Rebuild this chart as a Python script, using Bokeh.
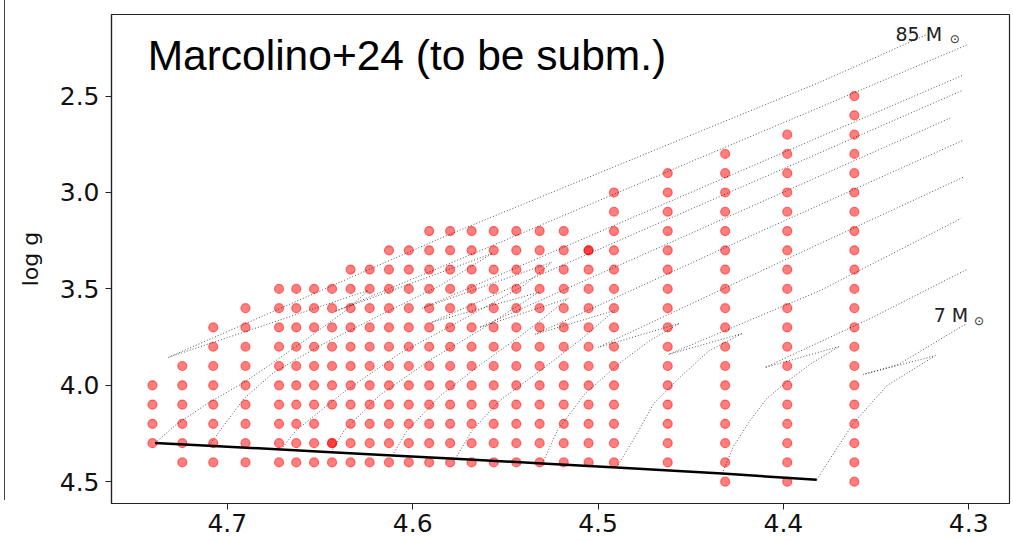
from bokeh.plotting import figure
from bokeh.models import Range1d, Label, FixedTicker, PrintfTickFormatter, Div
from bokeh.layouts import row
from bokeh.embed import file_html
from bokeh.resources import INLINE

# ---- grid of models (log Teff columns, log g range per column) ----
teff_cols = [4.7404, 4.7243, 4.7076, 4.6902, 4.6721, 4.6628, 4.6532, 4.6435, 4.6335,
             4.6232, 4.6128, 4.6021, 4.5911, 4.5798, 4.5682, 4.5563, 4.5441, 4.5315,
             4.5185, 4.5051, 4.4914, 4.4624, 4.4314, 4.3979, 4.3617]
g_top = [4.0, 3.9, 3.7, 3.6, 3.5, 3.5, 3.5, 3.5, 3.4, 3.4, 3.3, 3.3, 3.2, 3.2, 3.2,
         3.2, 3.2, 3.2, 3.2, 3.3, 3.0, 2.9, 2.8, 2.7, 2.5]
g_bottom = [4.3, 4.4, 4.4, 4.4, 4.4, 4.4, 4.4, 4.4, 4.4, 4.4, 4.4, 4.4, 4.4, 4.4, 4.4,
            4.4, 4.4, 4.4, 4.4, 4.4, 4.4, 4.4, 4.5, 4.5, 4.5]
missing_pts = [(4.6435, 4.2)]
extra_pts = [(4.6435, 4.3), (4.5051, 3.3)]

# ---- ZAMS ----
zams_x = [4.739, 4.710, 4.671, 4.644, 4.611, 4.577, 4.530, 4.490, 4.433, 4.382]
zams_g = [4.299, 4.313, 4.333, 4.347, 4.364, 4.381, 4.405, 4.426, 4.458, 4.490]

# ---- evolutionary tracks (ZAMS -> TAMS hook -> post-MS) ----
t85_x = [4.739, 4.727, 4.710, 4.692, 4.676, 4.656, 4.636, 4.624, 4.732, 4.584, 4.380, 4.323]
t85_g = [4.299, 4.199, 4.090, 3.991, 3.887, 3.752, 3.612, 3.508, 3.856, 3.233, 2.427, 2.183]
t60_x = [4.710, 4.704, 4.691, 4.675, 4.650, 4.618, 4.585, 4.557, 4.642, 4.551, 4.380, 4.301]
t60_g = [4.313, 4.235, 4.069, 3.934, 3.794, 3.638, 3.482, 3.316, 3.617, 3.251, 2.557, 2.235]
t40_x = [4.671, 4.663, 4.636, 4.607, 4.569, 4.540, 4.525, 4.595, 4.499, 4.303]
t40_g = [4.333, 4.235, 4.027, 3.835, 3.638, 3.482, 3.362, 3.601, 3.203, 2.391]
t32_x = [4.644, 4.637, 4.618, 4.591, 4.564, 4.532, 4.590, 4.445, 4.303]
t32_g = [4.347, 4.235, 4.053, 3.871, 3.716, 3.518, 3.674, 3.066, 2.469]
t25_x = [4.611, 4.603, 4.585, 4.564, 4.540, 4.516, 4.564, 4.445, 4.310]
t25_g = [4.364, 4.235, 4.053, 3.897, 3.731, 3.549, 3.700, 3.191, 2.614]
t20_x = [4.577, 4.568, 4.553, 4.531, 4.510, 4.491, 4.534, 4.418, 4.303]
t20_g = [4.381, 4.235, 4.079, 3.923, 3.768, 3.612, 3.736, 3.227, 2.729]
t15_x = [4.530, 4.522, 4.507, 4.488, 4.472, 4.456, 4.500, 4.402, 4.303]
t15_g = [4.405, 4.235, 4.043, 3.882, 3.768, 3.679, 3.804, 3.362, 2.921]
t12_x = [4.490, 4.478, 4.470, 4.456, 4.440, 4.422, 4.462, 4.380, 4.304]
t12_g = [4.426, 4.235, 4.095, 3.960, 3.820, 3.731, 3.840, 3.508, 3.134]
t9_x = [4.433, 4.427, 4.418, 4.409, 4.398, 4.385, 4.370, 4.410, 4.353, 4.301]
t9_g = [4.458, 4.318, 4.183, 4.069, 3.981, 3.887, 3.799, 3.908, 3.653, 3.399]
t7_x = [4.382, 4.372, 4.362, 4.344, 4.318, 4.357, 4.338, 4.301]
t7_g = [4.490, 4.339, 4.194, 4.001, 3.846, 3.944, 3.892, 3.679]

tracks_x = [t85_x, t60_x, t40_x, t32_x, t25_x, t20_x, t15_x, t12_x, t9_x, t7_x]
tracks_g = [t85_g, t60_g, t40_g, t32_g, t25_g, t20_g, t15_g, t12_g, t9_g, t7_g]

x_ticks = [4.7, 4.6, 4.5, 4.4, 4.3]
y_ticks = [2.5, 3.0, 3.5, 4.0, 4.5]

# expand grid
dot_x, dot_g = [], []
for t, top, bot in zip(teff_cols, g_top, g_bottom):
    n = int(round((bot - top) * 10)) + 1
    for k in range(n):
        g = round(top + 0.1 * k, 1)
        if (t, g) in missing_pts:
            continue
        dot_x.append(t)
        dot_g.append(g)
for t, g in extra_pts:
    dot_x.append(t)
    dot_g.append(g)

p = figure(width=1008, height=542,
           x_range=Range1d(4.7625, 4.278), y_range=Range1d(4.613, 2.077),
           output_backend="svg", toolbar_location=None,
           min_border_left=106, min_border_right=4, min_border_top=14, min_border_bottom=39,
           background_fill_color="white", border_fill_color="white", margin=0)
p.xgrid.visible = False
p.ygrid.visible = False
p.outline_line_color = "#222222"
p.outline_line_width = 1.2

for ax in (p.xaxis, p.yaxis):
    ax.major_label_text_font = "DejaVu Sans"
    ax.major_label_text_font_size = "25px"
    ax.major_label_text_color = "#111111"
    ax.minor_tick_line_color = None
    ax.major_tick_in = 0
    ax.major_tick_out = 6
    ax.major_tick_line_color = "#222222"
    ax.axis_line_color = "#222222"
    ax.axis_line_width = 1.2
    ax.formatter = PrintfTickFormatter(format="%.1f")
p.xaxis.ticker = FixedTicker(ticks=x_ticks)
p.yaxis.ticker = FixedTicker(ticks=y_ticks)
p.xaxis.major_label_standoff = 4
p.yaxis.major_label_standoff = 6
p.yaxis.axis_label = "log g"
p.yaxis.axis_label_text_font = "DejaVu Sans"
p.yaxis.axis_label_text_font_size = "22px"
p.yaxis.axis_label_text_color = "#111111"
p.yaxis.axis_label_text_font_style = "normal"
p.yaxis.axis_label_standoff = 14

p.scatter(dot_x, dot_g, size=9, fill_color="red", fill_alpha=0.5,
          line_color="red", line_alpha=0.5, line_width=1.2)

for tx, tg in zip(tracks_x, tracks_g):
    p.line(tx, tg, line_color="black", line_width=0.8, line_dash="1 2", line_alpha=0.85)

p.line(zams_x, zams_g, line_color="black", line_width=2.5)

p.add_layout(Label(x=4.743, y=2.292, text="Marcolino+24 (to be subm.)",
                   text_font="Liberation Sans", text_font_size="42.5px",
                   text_baseline="middle", text_align="left", text_color="black"))
p.add_layout(Label(x=4.3395, y=2.178, text="85 M", text_font="DejaVu Sans",
                   text_font_size="19px", text_baseline="middle", text_color="#222222"))
p.add_layout(Label(x=4.3075, y=2.204, text="⊙", text_font="DejaVu Sans",
                   text_font_size="12px", text_baseline="middle", text_align="center",
                   text_color="#222222"))
p.add_layout(Label(x=4.3189, y=3.638, text="7 M", text_font="DejaVu Sans",
                   text_font_size="19px", text_baseline="middle", text_color="#222222"))
p.add_layout(Label(x=4.2945, y=3.664, text="⊙", text_font="DejaVu Sans",
                   text_font_size="12px", text_baseline="middle", text_align="center",
                   text_color="#222222"))

edge = Div(text="", width=5, height=500, margin=0,
           styles={"border-right": "1.5px solid #444444", "box-sizing": "border-box"})
layout = row(edge, p, spacing=0, margin=0)

open("out.html", "w").write(file_html(layout, INLINE))
